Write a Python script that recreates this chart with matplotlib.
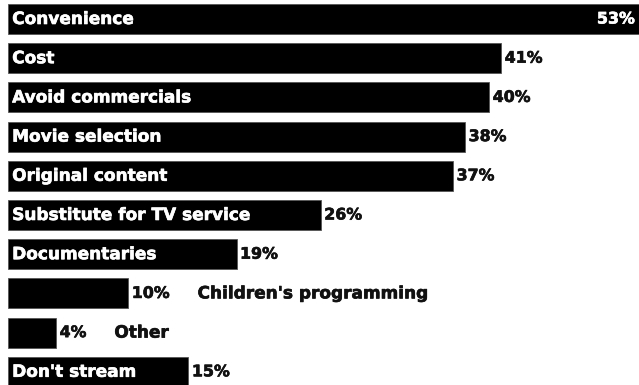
import matplotlib
matplotlib.use("Agg")
import matplotlib.pyplot as plt
import matplotlib.patheffects as pe

categories = ["Convenience", "Cost", "Avoid commercials", "Movie selection",
              "Original content", "Substitute for TV service", "Documentaries",
              "Children's programming", "Other", "Don't stream"]
values = [53, 41, 40, 38, 37, 26, 19, 10, 4, 15]
labels = [f"{v}%" for v in values]
inside_label = [True, True, True, True, True, True, True, False, False, True]

W, H, DPI = 639, 385, 100
fig = plt.figure(figsize=(W / DPI, H / DPI), dpi=DPI)
ax = fig.add_axes([0, 0, 1, 1])

px_per_unit = 12.03
left_px = 8
xmin = -left_px / px_per_unit
xmax = (W - left_px) / px_per_unit
spacing = 39.2
top_center = 19
ymin = -top_center / spacing
ymax = ymin + H / spacing
ax.set_xlim(xmin, xmax)
ax.set_ylim(ymax, ymin)
ax.axis("off")

font = dict(family=["DejaVu Sans"], fontweight="bold", fontsize=12.2)
val_font = dict(family=["DejaVu Sans"], fontweight="bold", fontsize=11.4)
dark = "#111111"
fx_white = [pe.withStroke(linewidth=0.45, foreground="white")]
fx_dark = [pe.withStroke(linewidth=0.45, foreground=dark)]

bar_h = 30 / spacing
ypos = list(range(len(categories)))
ax.barh(ypos, values, height=bar_h, color="black", edgecolor="#555555", linewidth=0.6)

for i, (cat, v, lab, inside) in enumerate(zip(categories, values, labels, inside_label)):
    if inside:
        ax.annotate(cat, xy=(0, i), xytext=(3, 0), textcoords="offset points",
                    va="center", ha="left", color="white", path_effects=fx_white, **font)
    if v > xmax:
        ax.annotate(lab, xy=(xmax, i), xytext=(-3, 0), textcoords="offset points",
                    va="center", ha="right", color="white", path_effects=fx_white,
                    **val_font)
    else:
        t = ax.annotate(lab, xy=(v, i), xytext=(2.5, 0), textcoords="offset points",
                        va="center", ha="left", color=dark, path_effects=fx_dark,
                        **val_font)
        if not inside:
            ax.annotate(cat, xy=(1, 0.5), xycoords=t, xytext=(20, 0),
                        textcoords="offset points", va="center", ha="left",
                        color=dark, path_effects=fx_dark, **font)

fig.savefig("out.png", dpi=DPI, facecolor="white")
